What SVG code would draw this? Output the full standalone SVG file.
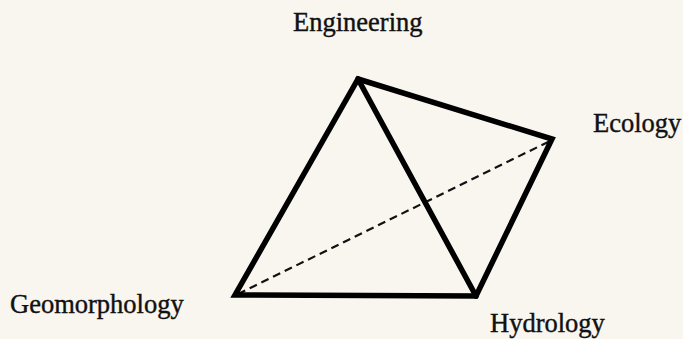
<svg xmlns="http://www.w3.org/2000/svg" width="683" height="339" viewBox="0 0 683 339">
<style>
.lbl{font-family:"Liberation Serif","Times New Roman",serif;font-size:26.5px;fill:#111;stroke:#111;stroke-width:0.4}
.edge{stroke:#000;stroke-width:5.5;fill:none;stroke-linejoin:miter;stroke-linecap:round}
.hidden{stroke:#111;stroke-width:2.2;stroke-dasharray:8 5;fill:none}
</style>
<rect width="683" height="339" fill="#f8f6ef"/>
<g id="connectors">
<line class="hidden" x1="238" y1="294" x2="550" y2="141"/>
<polygon class="edge" points="358,79 552,139 476,296 235,295"/>
<line class="edge" x1="358" y1="79" x2="476" y2="296"/>
</g>
<g id="engineering"><text class="lbl" x="293" y="31">Engineering</text></g>
<g id="ecology"><text class="lbl" x="593" y="132">Ecology</text></g>
<g id="geomorphology"><text class="lbl" x="10" y="313">Geomorphology</text></g>
<g id="hydrology"><text class="lbl" x="490" y="332">Hydrology</text></g>
</svg>
